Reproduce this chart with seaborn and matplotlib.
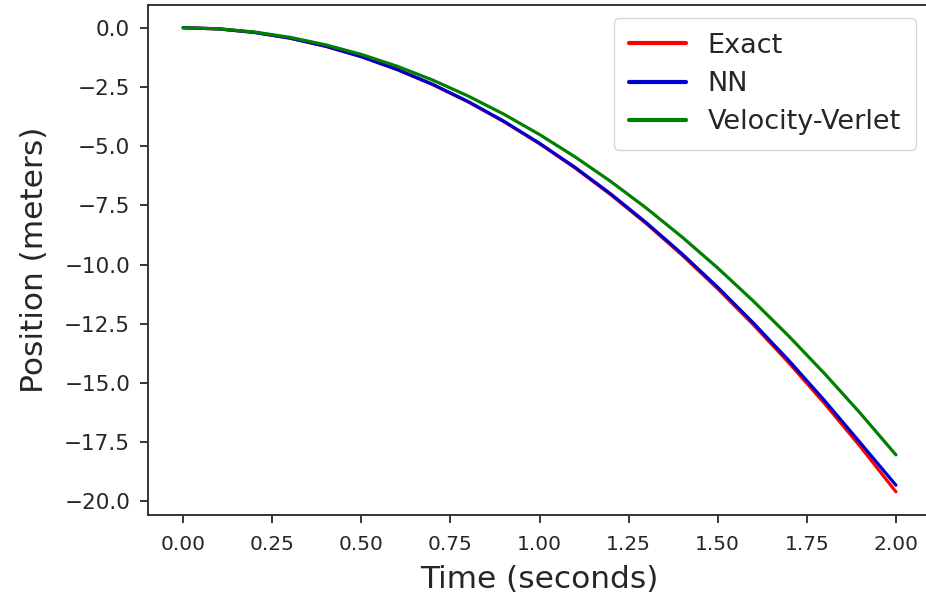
import numpy as np
import pandas as pd
import matplotlib
matplotlib.use("Agg")
import matplotlib.pyplot as plt
import seaborn as sns

# values
time_s = [0.0, 0.1, 0.2, 0.3, 0.4, 0.5, 0.6, 0.7, 0.8, 0.9, 1.0,
          1.1, 1.2, 1.3, 1.4, 1.5, 1.6, 1.7, 1.8, 1.9, 2.0]
exact = [0.0, -0.049, -0.196, -0.441, -0.784, -1.225, -1.764, -2.401, -3.136, -3.969, -4.9,
         -5.929, -7.056, -8.281, -9.604, -11.025, -12.544, -14.161, -15.876, -17.689, -19.6]
nn = [0.0, -0.05, -0.2, -0.44, -0.78, -1.22, -1.76, -2.39, -3.12, -3.95, -4.88,
      -5.90, -7.02, -8.24, -9.55, -10.96, -12.47, -14.06, -15.75, -17.53, -19.32]
verlet = [0.0, -0.045, -0.18, -0.406, -0.722, -1.128, -1.624, -2.21, -2.886, -3.653, -4.51,
          -5.457, -6.494, -7.622, -8.84, -10.148, -11.546, -13.034, -14.612, -16.281, -18.04]

names = ["Exact", "NN", "Velocity-Verlet"]
colors = ["red", "mediumblue", "green"]

df = pd.DataFrame({
    "t": time_s * 3,
    "pos": exact + nn + verlet,
    "method": [n for n in names for _ in time_s],
})

sns.set_theme(style="ticks")
plt.rcParams["font.family"] = ["DejaVu Sans"]

fig = plt.figure(figsize=(9.26, 5.96), dpi=100)
ax = fig.add_axes([0.1593, 0.1359, 0.8467, 0.8565])

sns.lineplot(data=df, x="t", y="pos", hue="method", hue_order=names,
             palette=dict(zip(names, colors)), linewidth=2.3, ax=ax)

ax.set_xlim(-0.1, 2.1)
ax.set_ylim(-20.58, 0.98)
xt = np.arange(0, 2.01, 0.25)
yt = np.arange(-20, 0.1, 2.5)
ax.set_xticks(xt)
ax.set_yticks(yt)
ax.set_xticklabels([f"{v:.2f}" for v in xt])
ax.set_yticklabels([f"{v:.1f}".replace("-", "\u2212") for v in yt])
ax.tick_params(axis="y", labelsize=15.5, length=6, width=1.3, pad=6.5)
ax.tick_params(axis="x", labelsize=14.5, length=6, width=1.3, pad=8.5)
ax.spines["right"].set_visible(False)
for s in ax.spines.values():
    s.set_linewidth(1.4)
    s.set_color("#333333")

ax.set_xlabel("Time (seconds)", fontsize=22.5, labelpad=7.5)
ax.set_ylabel("Position (meters)", fontsize=22.5, labelpad=11)

leg = ax.legend(loc="upper right", bbox_to_anchor=(0.997, 1.0), fontsize=19.5,
                frameon=True, handlelength=2.1, borderpad=0.55, labelspacing=0.45)
for line in leg.get_lines():
    line.set_linewidth(3.0)

fig.savefig("out.png", dpi=100)
